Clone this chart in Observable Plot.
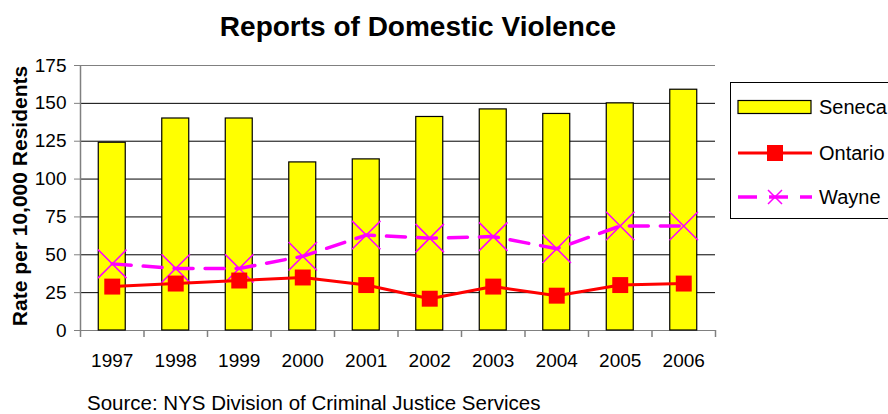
<!DOCTYPE html>
<html>
<head>
<meta charset="utf-8">
<script src="https://cdn.jsdelivr.net/npm/d3@7"></script>
<script src="https://cdn.jsdelivr.net/npm/@observablehq/plot@0.6"></script>
<style>
  body { margin: 0; background: #fff; }
  #wrap { position: relative; width: 888px; height: 414px; overflow: hidden; background: #fff;
          font-family: "Liberation Sans", Arial, sans-serif; color: #000; }
  #chart { position: absolute; left: 0; top: 0; }
  .title { position: absolute; left: 0; width: 836px; top: 11px; text-align: center;
           font-weight: bold; font-size: 28px; }
  .ylab { position: absolute; left: 20px; top: 196px; font-weight: bold; font-size: 21px;
          white-space: nowrap; transform: translate(-50%, -50%) rotate(-90deg); }
  .legend { position: absolute; left: 730px; top: 82px; width: 200px; height: 137px;
            border: 1px solid #000; box-sizing: border-box; }
  .legend .row { position: absolute; left: 6px; height: 30px; display: flex; align-items: center; }
  .legend .row span { font-size: 20px; margin-left: 6px; }
  .source { position: absolute; left: 87px; top: 391px; font-size: 20.5px; white-space: nowrap; }
</style>
</head>
<body>
<div id="wrap">
  <div class="title">Reports of Domestic Violence</div>
  <div class="ylab">Rate per 10,000 Residents</div>
  <div id="chart"></div>
  <div class="legend" id="legend"></div>
  <div class="source">Source: NYS Division of Criminal Justice Services</div>
</div>
<script>
const years = [1997, 1998, 1999, 2000, 2001, 2002, 2003, 2004, 2005, 2006];
const seneca = [124, 140, 140, 111, 113, 141, 146, 143, 150, 159];
const ontario = [29, 31, 33, 35, 30, 21, 29, 23, 30, 31];
const wayne = [44, 41, 41, 49, 63, 61, 62, 54, 69, 69];
const yTicks = [0, 25, 50, 75, 100, 125, 150, 175];
const seriesNames = ["Seneca", "Ontario", "Wayne"];

const rows = years.map((year, i) => ({year, seneca: seneca[i], ontario: ontario[i], wayne: wayne[i]}));
const boundaries = years.map(y => y - 0.5).concat([years[years.length - 1] + 0.5]);
const halfBar = 0.2125;

const chart = Plot.plot({
  width: 888,
  height: 414,
  marginLeft: 80,
  marginRight: 173,
  marginTop: 65,
  marginBottom: 84,
  style: {fontFamily: '"Liberation Sans", Arial, sans-serif', color: "#000", background: "transparent"},
  x: {type: "linear", domain: [boundaries[0], boundaries[boundaries.length - 1]]},
  y: {domain: [0, 175]},
  marks: [
    Plot.ruleY(yTicks.filter(v => v > 0 && v < 175), {stroke: "#000", strokeWidth: 1}),
    Plot.ruleY([0, 175], {stroke: "#808080", strokeWidth: 1}),
    Plot.ruleX([boundaries[0]], {stroke: "#808080", strokeWidth: 1.5}),
    Plot.axisX({ticks: boundaries, tickSize: 7, tickFormat: () => "", stroke: "#808080", strokeWidth: 1.5, label: null}),
    Plot.axisX({ticks: years, tickSize: 0, tickPadding: 23, tickFormat: d => String(d), fontSize: 19, fill: "#000", label: null}),
    Plot.axisY({ticks: yTicks, tickSize: 6, tickPadding: 8, stroke: "#808080", fontSize: 19, fill: "#000", label: null}),
    Plot.rectY(rows, {x1: d => d.year - halfBar, x2: d => d.year + halfBar, y: "seneca", fill: "#FFFF00", stroke: "#000", strokeWidth: 1.2}),
    Plot.line(rows, {x: "year", y: "wayne", stroke: "#FF00FF", strokeWidth: 3.5, strokeDasharray: "19,12"}),
    Plot.dot(rows, {x: "year", y: "wayne", symbol: "times", r: 13, stroke: "#FF00FF", strokeWidth: 1.5}),
    Plot.line(rows, {x: "year", y: "ontario", stroke: "#FF0000", strokeWidth: 3}),
    Plot.dot(rows, {x: "year", y: "ontario", symbol: "square", r: 9, fill: "#FF0000", stroke: "none"})
  ]
});
document.getElementById("chart").appendChild(chart);

// Legend
const legend = document.getElementById("legend");
const swatches = {
  Seneca: `<svg width="76" height="30"><rect x="1" y="8.5" width="73" height="13" fill="#FFFF00" stroke="#000" stroke-width="1.2"/></svg>`,
  Ontario: `<svg width="76" height="30"><line x1="1" x2="75" y1="15" y2="15" stroke="#FF0000" stroke-width="3"/><rect x="30" y="7" width="16" height="16" fill="#FF0000"/></svg>`,
  Wayne: `<svg width="76" height="30"><line x1="1" x2="75" y1="15" y2="15" stroke="#FF00FF" stroke-width="3.5" stroke-dasharray="19,12"/><path d="M31,8L45,22M45,8L31,22" stroke="#FF00FF" stroke-width="1.5"/></svg>`
};
const rowTops = [9, 55, 99];
seriesNames.forEach((name, i) => {
  const row = document.createElement("div");
  row.className = "row";
  row.style.top = rowTops[i] + "px";
  row.innerHTML = swatches[name] + `<span>${name}</span>`;
  legend.appendChild(row);
});
</script>
</body>
</html>
